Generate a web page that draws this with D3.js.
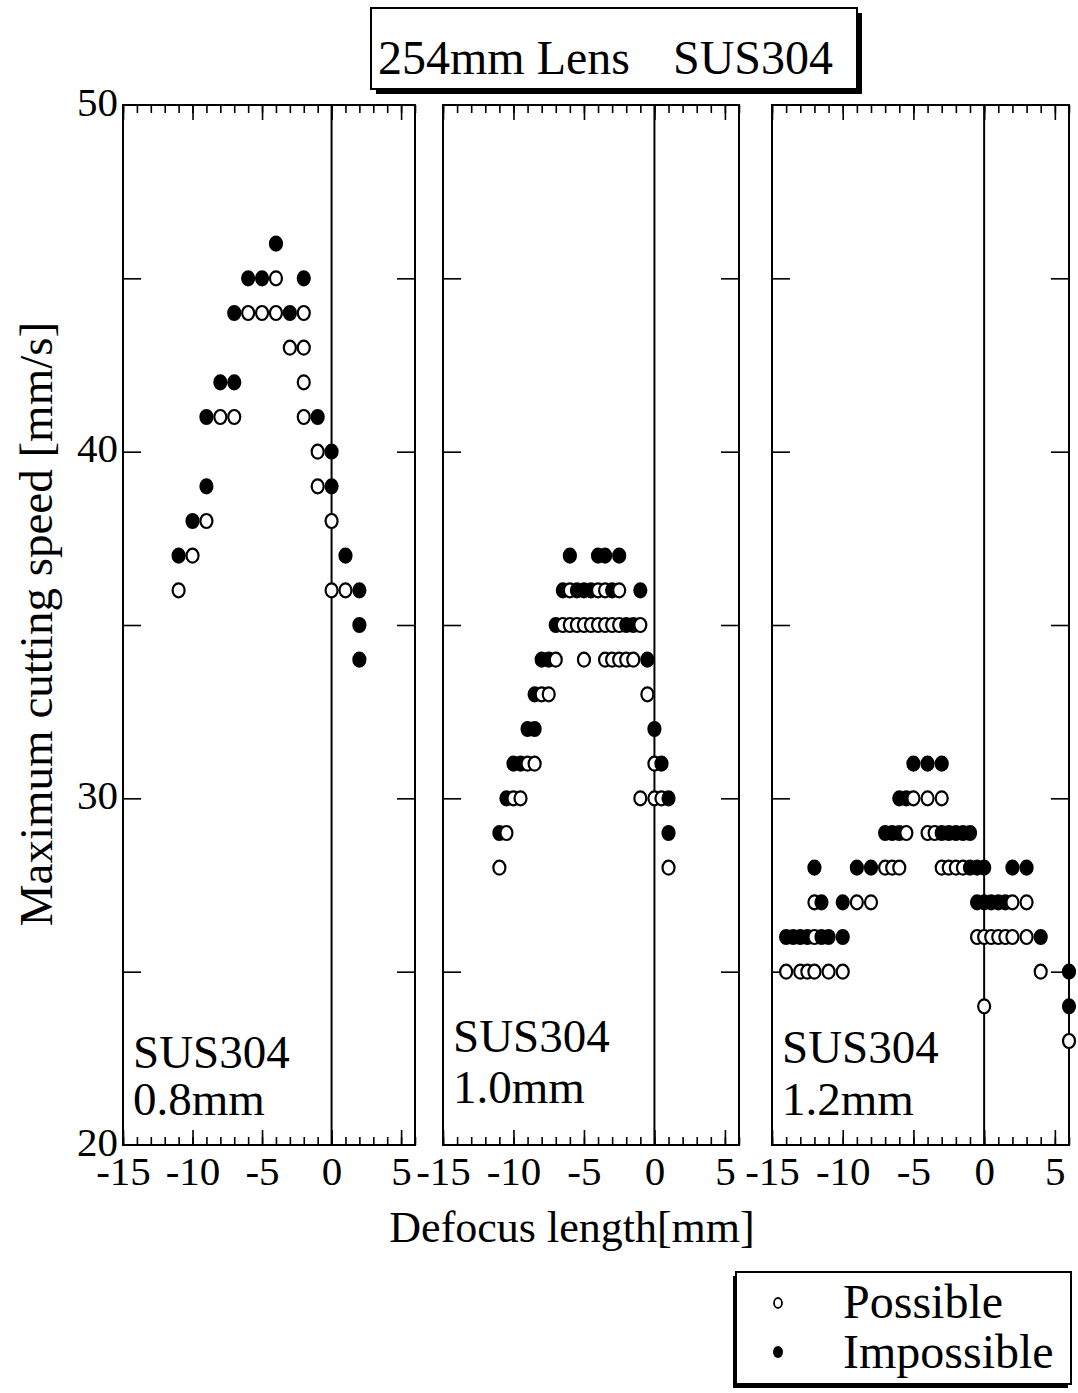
<!DOCTYPE html>
<html>
<head>
<meta charset="utf-8">
<script src="https://cdn.jsdelivr.net/npm/d3@7"></script>
<style>
  body { margin: 0; background: #fff; }
  text { font-family: "Liberation Serif", "Times New Roman", serif; fill: #000; }
</style>
</head>
<body>
<svg id="chart" width="1078" height="1393"></svg>
<script>
// [defocus length mm, max cutting speed mm/s]
var thicknesses = ["0.8mm", "1.0mm", "1.2mm"];

var possible08 = [[-4,45],[-6,44],[-5,44],[-4,44],[-2,44],[-3,43],[-2,43],[-2,42],
  [-8,41],[-7,41],[-2,41],[-1,40],[-1,39],[-9,38],[0,38],[-10,37],[-11,36],[0,36],[1,36]];
var impossible08 = [[-4,46],[-6,45],[-5,45],[-2,45],[-7,44],[-3,44],[-8,42],[-7,42],
  [-9,41],[-1,41],[0,40],[-9,39],[0,39],[-10,38],[-11,37],[1,37],[2,36],[2,35],[2,34]];

var possible10 = [[-6,36],[-4,36],[-3.5,36],[-2.5,36],
  [-6.5,35],[-6,35],[-5.5,35],[-5,35],[-4.5,35],[-4,35],[-3.5,35],[-3,35],[-2.5,35],[-1,35],
  [-7,34],[-5,34],[-3.5,34],[-3,34],[-2.5,34],[-2,34],[-1.5,34],
  [-8,33],[-7.5,33],[-0.5,33],[-9,31],[-8.5,31],[0,31],
  [-10,30],[-9.5,30],[-1,30],[0,30],[0.5,30],[-10.5,29],[-11,28],[1,28]];
var impossible10 = [[-6,37],[-4,37],[-3.5,37],[-2.5,37],
  [-6.5,36],[-5.5,36],[-5,36],[-4.5,36],[-3,36],[-1,36],
  [-7,35],[-2,35],[-1.5,35],[-8,34],[-7.5,34],[-0.5,34],[-8.5,33],
  [-9,32],[-8.5,32],[0,32],[-10,31],[-9.5,31],[0.5,31],[-10.5,30],[1,30],[-11,29],[1,29]];

var possible12 = [[-5,30],[-4,30],[-3,30],[-5.5,29],[-4,29],[-3.5,29],
  [-7,28],[-6.5,28],[-6,28],[-3,28],[-2.5,28],[-2,28],[-1.5,28],
  [-12,27],[-9,27],[-8,27],[2,27],[3,27],
  [-12,26],[-0.5,26],[0,26],[0.5,26],[1,26],[1.5,26],[2,26],[3,26],
  [-14,25],[-13,25],[-12.5,25],[-12,25],[-11,25],[-10,25],[4,25],[0,24],[6,23]];
var impossible12 = [[-5,31],[-4,31],[-3,31],[-6,30],[-5.5,30],
  [-7,29],[-6.5,29],[-6,29],[-3,29],[-2.5,29],[-2,29],[-1.5,29],[-1,29],
  [-12,28],[-9,28],[-8,28],[-1,28],[-0.5,28],[0,28],[2,28],[3,28],
  [-11.5,27],[-10,27],[-0.5,27],[0,27],[0.5,27],[1,27],[1.5,27],
  [-14,26],[-13.5,26],[-13,26],[-12.5,26],[-11.5,26],[-11,26],[-10,26],[4,26],
  [6,25],[6,24]];

var xTicks = [-15, -10, -5, 0, 5];
var yLabelTicks = [20, 30, 40, 50];

var possibleSets = [possible08, possible10, possible12];
var impossibleSets = [impossible08, impossible10, impossible12];

var svg = d3.select("#chart");
var plotTop = 105, plotBottom = 1145;
var panelX = [[123, 415], [443, 739], [772, 1069]];
var labelY = [[1068, 1115], [1052, 1103], [1063, 1115]];

var y = d3.scaleLinear().domain([20, 50]).range([plotBottom, plotTop]);
var plain = function(d) { return String(d); }; // keep ascii hyphen like the original

panelX.forEach(function(px, i) {
  var x = d3.scaleLinear().domain([-15, 6]).range(px);
  var g = svg.append("g");

  // minor + major ticks, all pointing inward
  var minor = d3.range(-15, 7);
  g.append("g").attr("transform", "translate(0," + plotBottom + ")")
    .call(d3.axisBottom(x).tickValues(minor).tickSize(-8).tickFormat(""));
  g.append("g").attr("transform", "translate(0," + plotTop + ")")
    .call(d3.axisTop(x).tickValues(minor).tickSize(-8).tickFormat(""));
  g.append("g").attr("transform", "translate(0," + plotTop + ")")
    .call(d3.axisTop(x).tickValues(xTicks).tickSize(-15).tickFormat(""));
  g.append("g").attr("class", "xlab").attr("transform", "translate(0," + plotBottom + ")")
    .call(d3.axisBottom(x).tickValues(xTicks).tickSize(-15).tickPadding(11).tickFormat(plain));

  var yt = [25, 30, 35, 40, 45];
  g.append("g").attr("transform", "translate(" + px[0] + ",0)")
    .call(d3.axisLeft(y).tickValues(yt).tickSize(-18).tickFormat(""));
  g.append("g").attr("transform", "translate(" + px[1] + ",0)")
    .call(d3.axisRight(y).tickValues(yt).tickSize(-18).tickFormat(""));

  if (i === 0) {
    g.append("g").attr("class", "ylab").attr("transform", "translate(" + px[0] + ",0)")
      .call(d3.axisLeft(y).tickValues(yLabelTicks).tickSize(0).tickPadding(5).tickFormat(plain));
  }

  g.selectAll(".domain").remove();
  g.selectAll(".tick line").attr("stroke", "#000").attr("stroke-width", 1.6);
  g.selectAll(".tick text").attr("font-size", 41)
    .attr("font-family", "'Liberation Serif', 'Times New Roman', serif");
  g.selectAll(".ylab .tick text").attr("dy", "0.25em");

  // frame
  g.append("rect").attr("x", px[0]).attr("y", plotTop)
    .attr("width", px[1] - px[0]).attr("height", plotBottom - plotTop)
    .attr("fill", "none").attr("stroke", "#000").attr("stroke-width", 2);
  // zero line
  g.append("line").attr("x1", x(0)).attr("x2", x(0)).attr("y1", plotTop).attr("y2", plotBottom)
    .attr("stroke", "#000").attr("stroke-width", 2);

  var pts = possibleSets[i].map(function(d) { return {x: d[0], v: d[1], ok: true}; })
    .concat(impossibleSets[i].map(function(d) { return {x: d[0], v: d[1], ok: false}; }));
  pts.sort(function(a, b) { return b.v - a.v || a.x - b.x; });

  g.selectAll("ellipse.pt").data(pts).enter().append("ellipse")
    .attr("class", "pt")
    .attr("cx", function(d) { return x(d.x); })
    .attr("cy", function(d) { return y(d.v); })
    .attr("rx", 6).attr("ry", 7)
    .attr("fill", function(d) { return d.ok ? "#fff" : "#000"; })
    .attr("stroke", "#000").attr("stroke-width", 2.2);

  g.append("text").attr("x", px[0] + 10).attr("y", labelY[i][0])
    .attr("font-size", 47).text("SUS304");
  g.append("text").attr("x", px[0] + 10).attr("y", labelY[i][1])
    .attr("font-size", 47).text(thicknesses[i]);
});

// axis titles
svg.append("text").attr("x", 572).attr("y", 1242).attr("text-anchor", "middle")
  .attr("font-size", 44).text("Defocus length[mm]");
svg.append("text").attr("transform", "translate(52,624) rotate(-90)")
  .attr("text-anchor", "middle").attr("font-size", 47).text("Maximum cutting speed [mm/s]");

// title box
svg.append("rect").attr("x", 376).attr("y", 13).attr("width", 486).attr("height", 81).attr("fill", "#000");
svg.append("rect").attr("x", 371).attr("y", 8).attr("width", 486).attr("height", 81)
  .attr("fill", "#fff").attr("stroke", "#000").attr("stroke-width", 2);
svg.append("text").attr("x", 378).attr("y", 74).attr("font-size", 48).text("254mm Lens");
svg.append("text").attr("x", 833).attr("y", 74).attr("text-anchor", "end").attr("font-size", 48).text("SUS304");

// legend
svg.append("rect").attr("x", 733).attr("y", 1276).attr("width", 335).attr("height", 112).attr("fill", "#000");
svg.append("rect").attr("x", 736).attr("y", 1272).attr("width", 335).attr("height", 112)
  .attr("fill", "#fff").attr("stroke", "#000").attr("stroke-width", 2);
svg.append("ellipse").attr("cx", 778).attr("cy", 1303).attr("rx", 4).attr("ry", 5)
  .attr("fill", "#fff").attr("stroke", "#000").attr("stroke-width", 1.8);
svg.append("ellipse").attr("cx", 778).attr("cy", 1352).attr("rx", 5).attr("ry", 6).attr("fill", "#000");
svg.append("text").attr("x", 843).attr("y", 1318).attr("font-size", 48).text("Possible");
svg.append("text").attr("x", 843).attr("y", 1368).attr("font-size", 48).text("Impossible");
</script>
</body>
</html>
